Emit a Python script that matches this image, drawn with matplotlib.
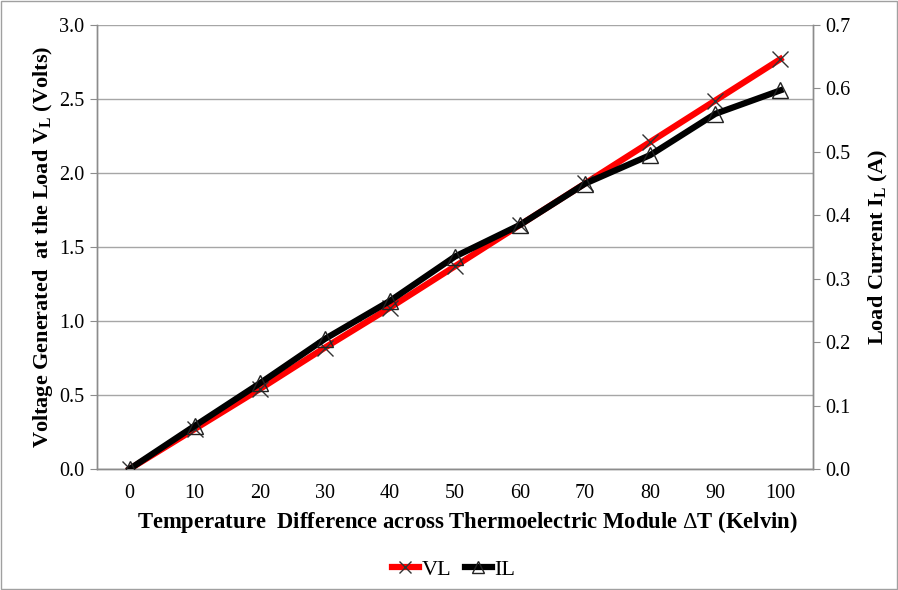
import matplotlib
matplotlib.use("Agg")
import matplotlib.pyplot as plt
from matplotlib.lines import Line2D
from matplotlib.patches import Rectangle

delta_t = [0, 10, 20, 30, 40, 50, 60, 70, 80, 90, 100]
vl = [0, 0.27, 0.54, 0.82, 1.09, 1.37, 1.65, 1.93, 2.21, 2.49, 2.77]
il = [0, 0.068, 0.135, 0.205, 0.265, 0.335, 0.385, 0.45, 0.495, 0.56, 0.597]
left_ticks = [0.0, 0.5, 1.0, 1.5, 2.0, 2.5, 3.0]
right_ticks = [0.0, 0.1, 0.2, 0.3, 0.4, 0.5, 0.6, 0.7]

plt.rcParams['font.family'] = ['Liberation Serif', 'DejaVu Serif']
plt.rcParams['mathtext.fontset'] = 'custom'
plt.rcParams['mathtext.rm'] = 'Liberation Serif'
plt.rcParams['mathtext.bf'] = 'Liberation Serif:bold'

FS = 14.5
FSL = 16
FSX = 16.3
GRAY = '#8c8c8c'

fig = plt.figure(figsize=(8.98, 5.90), dpi=100)
ax = fig.add_axes([0.108, 0.205, 0.7973, 0.7526])
ax2 = ax.twinx()

pos = list(range(len(delta_t)))

ax.plot(pos, vl, color='#ff0000', lw=4.5, marker='x', ms=12, mew=1.0,
        mec='#333333', zorder=3, label='VL')
ax2.plot(pos, il, color='black', lw=4.5, marker='^', ms=12, mew=1.0,
         mec='#222222', mfc='none', zorder=3, label='IL')

ax.set_xlim(-0.5, len(delta_t) - 0.5)
ax.set_ylim(0, 3.0)
ax2.set_ylim(0, 0.7)

ax.set_xticks(pos)
ax.set_xticklabels([str(v) for v in delta_t], fontsize=FS)
ax.tick_params(axis='x', length=0, pad=11)
ax.set_yticks(left_ticks)
ax.set_yticklabels([f"{v:.1f}" for v in left_ticks], fontsize=FS)
ax.tick_params(axis='y', direction='out', length=5, color=GRAY, pad=4)
ax2.set_yticks(right_ticks)
ax2.set_yticklabels([f"{v:.1f}" for v in right_ticks], fontsize=FS)
ax2.tick_params(axis='y', direction='out', length=5, color=GRAY, pad=4)

ax.grid(axis='y', color='#a6a6a6', lw=1.0)
ax.set_axisbelow(True)

for a in (ax, ax2):
    a.spines['top'].set_visible(False)
    for s in ('left', 'right', 'bottom'):
        a.spines[s].set_color(GRAY)
        a.spines[s].set_linewidth(1.0)

ax.set_xlabel(r"Temperature  Difference across Thermoelectric Module $\Delta$T (Kelvin)",
              fontsize=FSX, fontweight='bold', labelpad=4)
ax.xaxis.label.set_x(0.517)
ax.set_ylabel(r"Voltage Generated  at the Load V$_\mathbf{L}$ (Volts)",
              fontsize=FSL, fontweight='bold', labelpad=3)
ax2.set_ylabel(r"Load Current I$_\mathbf{L}$ (A)",
               fontsize=FSL, fontweight='bold', labelpad=12)

handles = [Line2D([], [], color='#ff0000', lw=4.5, marker='x', ms=9, mew=1.0, mec='#333333'),
           Line2D([], [], color='black', lw=4.5, marker='^', ms=9, mew=1.0, mec='#222222', mfc='none')]
fig.legend(handles, ['VL', 'IL'], loc='center', bbox_to_anchor=(0.505, 0.034),
           ncol=2, frameon=False, fontsize=FSL, handlelength=1.25,
           handletextpad=0.1, columnspacing=0.6)

fig.patches.append(Rectangle((0.001, 0.001), 0.998, 0.998, transform=fig.transFigure,
                             fill=False, edgecolor='#a0a0a0', lw=1.0))

fig.savefig('out.png', dpi=100)
